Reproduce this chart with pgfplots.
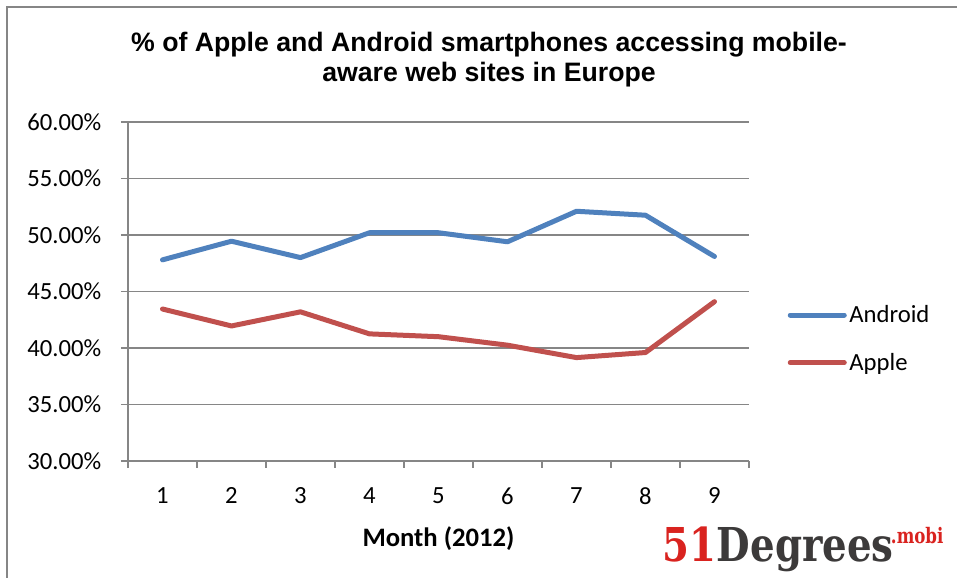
\documentclass[border=0pt]{standalone}
\usepackage{fontspec}
\setmainfont{Carlito}
\newfontfamily\titlefont{Liberation Sans}
\newfontfamily\logofont{DejaVu Serif}
\usepackage{graphicx}
\usepackage{pgfplots}
\pgfplotsset{compat=1.18}
\definecolor{android}{HTML}{4F81BD}
\definecolor{apple}{HTML}{C0504D}
\definecolor{gridgray}{HTML}{868686}
\definecolor{logored}{HTML}{D9231F}
\definecolor{logogray}{HTML}{3C3A3A}

\newcommand{\lblfont}{\fontsize{18.5pt}{22pt}\selectfont}

\begin{document}
\begin{tikzpicture}
\useasboundingbox (0pt,0pt) rectangle (717.75pt,433.5pt);
\draw[gridgray, line width=1.1pt] (5.25pt,-10pt) rectangle (730pt,428.25pt);

\node[align=center, font=\titlefont\bfseries\fontsize{20pt}{22.5pt}\selectfont, anchor=base]
  at (366.75pt,372pt) {\% of Apple and Android smartphones accessing mobile-\\aware web sites in Europe};

\begin{axis}[
  at={(96pt,87.75pt)}, anchor=south west,
  scale only axis, width=465.75pt, height=254.25pt,
  xmin=0.5, xmax=9.5, ymin=30, ymax=60,
  xtick={1,...,9},
  minor xtick={0.5,1.5,...,9.5},
  ytick={30,35,...,60},
  axis x line*=bottom, axis y line*=left,
  axis line style={gridgray, line width=1.1pt, -},
  ymajorgrids, grid style={gridgray, line width=1.1pt},
  tick align=outside, major tick length=5.25pt, minor tick length=5.25pt,
  tick style={gridgray, line width=1.1pt},
  major x tick style={draw=none},
  /pgf/number format/assume math mode=true,
  yticklabel={\pgfmathprintnumber[fixed,fixed zerofill,precision=2]{\tick}\%},
  tick label style={font=\lblfont, text=black},
  yticklabel style={xshift=-11.25pt},
  xticklabel style={yshift=-11.25pt},
  xlabel={\bfseries Month (2012)},
  xlabel style={font=\fontsize{20pt}{24pt}\selectfont, yshift=-9.5pt},
  legend style={at={(1.062,0.36)}, anchor=west, draw=none, fill=none,
    inner sep=0pt, font=\lblfont, row sep=17.5pt},
  legend cell align=left,
  legend image code/.code={\draw[#1] (0pt,0pt) -- (40.5pt,0pt);},
  every axis plot/.append style={line width=3.75pt, line join=round, line cap=round},
]
\addplot[android] coordinates {
  (1,47.8) (2,49.45) (3,48.0) (4,50.2) (5,50.2) (6,49.4) (7,52.1) (8,51.75) (9,48.1)
};
\addlegendentry{Android}
\addplot[apple] coordinates {
  (1,43.45) (2,41.95) (3,43.2) (4,41.25) (5,41.0) (6,40.25) (7,39.15) (8,39.6) (9,44.1)
};
\addlegendentry{Apple}
\end{axis}

\node[anchor=base west, inner sep=0pt] at (497pt,12.5pt)
  {\scalebox{0.83}[1]{\logofont\bfseries\fontsize{35pt}{35pt}\selectfont
   \textcolor{logored}{51}\textcolor{logogray}{Degrees}}\kern-2pt
   \raisebox{13pt}{\scalebox{0.78}[1]{\logofont\bfseries\fontsize{16pt}{16pt}\selectfont\textcolor{logored}{.mobi}}}};
\end{tikzpicture}
\end{document}
